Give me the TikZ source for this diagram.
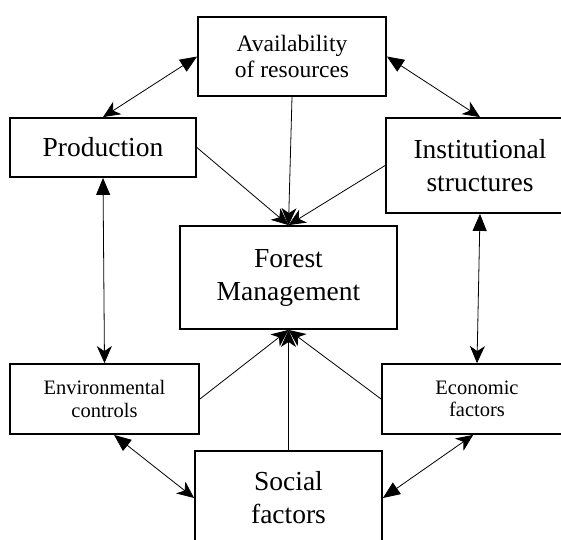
\documentclass[tikz,border=0pt]{standalone}
\usepackage{fontspec}
\setmainfont{Liberation Serif}
\usetikzlibrary{arrows.meta,calc}
\tikzset{
  box/.style={draw, line width=1.8pt, inner sep=0pt, align=center, fill=white},
  bigtext/.style={font=\fontsize{27.5}{33}\selectfont},
  midtext/.style={font=\fontsize{23.5}{26}\selectfont},
  smalltext/.style={font=\fontsize{20.5}{22.5}\selectfont},
  link/.style={line width=0.8pt},
  both/.style={link, {Triangle[length=17pt,width=14pt]}-{Stealth[length=17pt,width=15pt,inset=5pt]}},
  into/.style={link, -{Stealth[length=17pt,width=15pt,inset=5pt]}},
}
\begin{document}
\begin{tikzpicture}[x=1pt, y=-1pt]
\useasboundingbox (0,0) rectangle (561,539);
\clip (0,0) rectangle (561,539);
\node[box, midtext, minimum width=188pt, minimum height=79pt] (avail) at (292,56.5) {Availability\\of resources};
\node[box, bigtext, minimum width=186pt, minimum height=59pt] (prod) at (103,147.5) {Production};
\node[box, bigtext, minimum width=188pt, minimum height=95pt] (inst) at (480,165.5) {Institutional\\structures};
\node[box, bigtext, minimum width=217pt, minimum height=103pt] (fm) at (288.5,277.5) {Forest\\Management};
\node[box, smalltext, minimum width=189pt, minimum height=70pt] (env) at (104.5,399) {Environmental\\controls};
\node[box, smalltext, minimum width=190pt, minimum height=70pt] (econ) at (477,399) {Economic\\factors};
\node[box, bigtext, minimum width=187pt, minimum height=94pt] (social) at (288.5,498) {Social\\factors};
\coordinate (envlow) at ($(env.south west)!0.55!(env.south east)$);
\coordinate (econlow) at ($(econ.south west)!0.48!(econ.south east)$);
\draw[both] (avail.west) -- (prod.north);
\draw[both] (avail.east) -- (inst.north);
\draw[both] (prod.south) -- (env.north);
\draw[both] (inst.south) -- (econ.north);
\draw[both] (envlow) -- (social.west);
\draw[both] (social.east) -- (econlow);
\draw[into] (avail.south) -- (fm.north);
\draw[into] (prod.east) -- (fm.north);
\draw[into] (inst.west) -- (fm.north);
\draw[into] (env.east) -- (fm.south);
\draw[into] (econ.west) -- (fm.south);
\draw[into] (social.north) -- (fm.south);
\end{tikzpicture}
\end{document}
